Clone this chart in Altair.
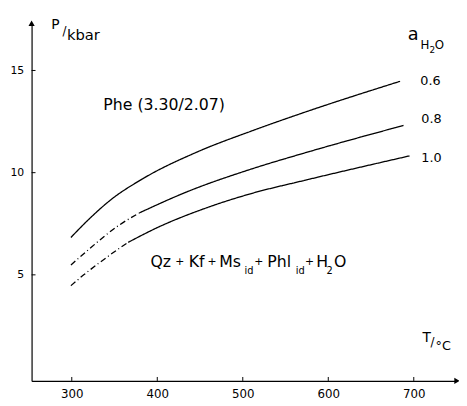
import altair as alt
import pandas as pd

# ---- data ----
curve_names = ["0.6", "0.8", "1.0"]
t_06 = [299, 323, 345, 385, 446, 511, 572, 684]
p_06 = [6.83, 7.84, 8.65, 9.75, 11.0, 12.05, 12.95, 14.47]
t_08 = [299, 320, 356, 379, 434, 511, 572, 688]
p_08 = [5.48, 6.25, 7.45, 8.03, 9.05, 10.19, 10.96, 12.31]
t_10 = [299, 314, 331, 354, 366, 400, 457, 511, 572, 695]
p_10 = [4.47, 5.0, 5.55, 6.25, 6.59, 7.31, 8.27, 8.99, 9.62, 10.82]
dash_until = [299, 379, 366]   # estimated (dash-dot) part of each curve

x_ticks = [300, 400, 500, 600, 700]
y_ticks = [5, 10, 15]

T_MIN, T_MAX = 253, 750.6
P_MIN, P_MAX = -0.19, 17.31
W, H = 433, 364
FONT = "DejaVu Sans"

# ---- build line table ----
rows = []
for name, ts, ps, split in zip(curve_names, [t_06, t_08, t_10], [p_06, p_08, p_10], dash_until):
    for t, p in zip(ts, ps):
        if t <= split:
            rows.append({"T": t, "P": p, "seg": name + "d", "style": "dashed"})
        if t >= split:
            rows.append({"T": t, "P": p, "seg": name + "s", "style": "solid"})
lines_df = pd.DataFrame(rows)

# ---- annotation texts (data coordinates) ----
left_texts = [
    ("Qz", 392, 5.62, 16), ("Kf", 436.8, 5.62, 16), ("Ms", 472.4, 5.62, 16),
    ("id", 502, 5.2, 10), ("Phl", 528.7, 5.62, 16), ("id", 562, 5.2, 10),
    ("H", 586, 5.62, 16), ("2", 598, 5.2, 10), ("O", 606.6, 5.62, 16),
    ("a", 693, 16.73, 18), ("H", 708, 16.23, 12), ("2", 718.4, 16.0, 9), ("O", 724.5, 16.23, 12),
    ("P", 275.9, 17.21, 14), ("kbar", 294.3, 16.73, 15),
    ("T", 710.3, 1.92, 14), ("°C", 725.5, 1.5, 13),
]
center_texts = [
    ("+", 426.4, 5.62, 11), ("+", 464, 5.62, 11), ("+", 518.8, 5.62, 11), ("+", 578.2, 5.62, 11),
    ("Phe (3.30/2.07)", 408, 13.32, 16),
    ("0.6", 719.5, 14.47, 13), ("0.8", 720.7, 12.6, 13), ("1.0", 720.7, 10.72, 13),
    ("/", 291.4, 16.95, 12), ("/", 722, 1.72, 12),
]
lt_df = pd.DataFrame(left_texts, columns=["text", "T", "P", "size"])
ct_df = pd.DataFrame(center_texts, columns=["text", "T", "P", "size"])

xs = alt.Scale(domain=[T_MIN, T_MAX], nice=False, zero=False)
ys = alt.Scale(domain=[P_MIN, P_MAX], nice=False, zero=False)

lines = alt.Chart(lines_df).mark_line(
    color="black", strokeWidth=1.3, interpolate="monotone"
).encode(
    x=alt.X("T:Q", scale=xs, axis=alt.Axis(
        values=x_ticks, ticks=False, grid=False, title=None, labelFlush=False,
        labelFont=FONT, labelFontSize=12, labelColor="black", labelPadding=8,
        domainColor="black", domainWidth=1.2)),
    y=alt.Y("P:Q", scale=ys, axis=alt.Axis(
        values=y_ticks, ticks=False, grid=False, title=None, labelFlush=False,
        labelFont=FONT, labelFontSize=11, labelColor="black", labelPadding=8,
        domainColor="black", domainWidth=1.2)),
    detail="seg:N",
    strokeDash=alt.StrokeDash("style:N", scale=alt.Scale(
        domain=["solid", "dashed"], range=[[1, 0], [6, 3, 1, 3]]), legend=None),
)

xt = alt.Chart(pd.DataFrame({"T": x_ticks})).mark_rule(color="black", strokeWidth=1).encode(
    x="T:Q", y=alt.value(H), y2=alt.value(H - 4))
yt = alt.Chart(pd.DataFrame({"P": y_ticks})).mark_rule(color="black", strokeWidth=1).encode(
    y="P:Q", x=alt.value(0), x2=alt.value(4))

arrows = alt.Chart(pd.DataFrame({
    "T": [T_MIN, T_MAX], "P": [P_MAX, P_MIN], "shape": ["triangle-up", "triangle-right"]
})).mark_point(filled=True, color="black", opacity=1, size=40).encode(
    x="T:Q", y="P:Q", shape=alt.Shape("shape:N", scale=None))

ltext = alt.Chart(lt_df).mark_text(align="left", baseline="middle", font=FONT, color="black").encode(
    x="T:Q", y="P:Q", text="text:N", size=alt.Size("size:Q", scale=None))
ctext = alt.Chart(ct_df).mark_text(align="center", baseline="middle", font=FONT, color="black").encode(
    x="T:Q", y="P:Q", text="text:N", size=alt.Size("size:Q", scale=None))

chart = alt.layer(lines, xt, yt, arrows, ltext, ctext).properties(
    width=W, height=H,
    padding={"left": 24, "top": 12, "right": 2, "bottom": 22},
    autosize=alt.AutoSizeParams(type="none"),
    background="white",
).configure_view(stroke=None)

chart.save("out.html", embed_options={"renderer": "svg", "actions": False})
